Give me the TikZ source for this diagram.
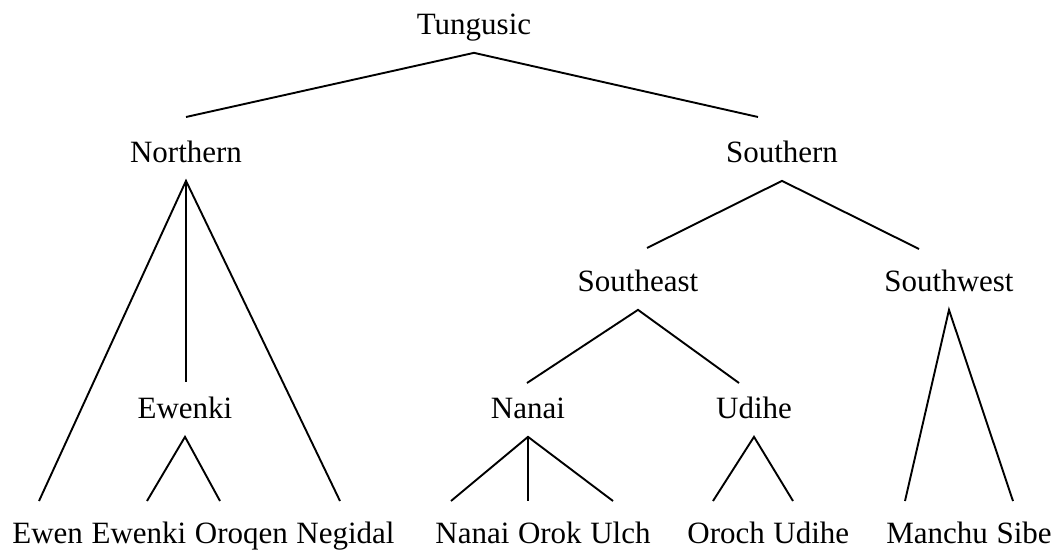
\documentclass[tikz,border=0pt]{standalone}
\usepackage{fontspec}
\setmainfont{Liberation Serif}
\usepackage{tikz}
\usetikzlibrary{positioning}
\tikzset{
  every picture/.style={x=0.5pt, y=-0.5pt},
  lang/.style={font=\fontsize{15.5}{18}\selectfont, inner xsep=0pt, inner ysep=5.35pt,
               text height=10.85pt, text depth=3.4pt},
  leaf/.style={lang},
  branch/.style={draw=black, line width=0.95pt},
}

\begin{document}
\begin{tikzpicture}
  \useasboundingbox (0,0) rectangle (1057,552);
  % upper levels
  \node[lang] (T) at (474,27.5) {Tungusic};
  \node[lang] (N) at (186,155.5) {Northern};
  \node[lang] (S) at (782,155.5) {Southern};
  \node[lang] (SE) at (638,284.5) {Southeast};
  \node[lang] (SW) at (949,284.5) {Southwest};
  \node[lang] (Ew) at (185,411.5) {Ewenki};
  \node[lang] (Na) at (528,411.5) {Nanai};
  \node[lang] (Ud) at (754,411.5) {Udihe};
  % leaves
  \node[leaf, anchor=west] (ewen) at (12,536.5) {Ewen};
  \node[leaf, right=3.9pt of ewen] (ewenki) {Ewenki};
  \node[leaf, right=3.9pt of ewenki] (oroqen) {Oroqen};
  \node[leaf, right=3.9pt of oroqen] (negidal) {Negidal};
  \node[leaf, anchor=west] (nanai) at (435,536.5) {Nanai};
  \node[leaf, right=3.9pt of nanai] (orok) {Orok};
  \node[leaf, right=3.9pt of orok] (ulch) {Ulch};
  \node[leaf, anchor=west] (oroch) at (687,536.5) {Oroch};
  \node[leaf, right=3.9pt of oroch] (udihe) {Udihe};
  \node[leaf, anchor=west] (manchu) at (886,536.5) {Manchu};
  \node[leaf, right=3.9pt of manchu] (sibe) {Sibe};
  % free ends of the branches
  \coordinate (tN) at (186,117); \coordinate (tS) at (758,117);
  \coordinate (nL) at (39,501); \coordinate (nM) at (186,382); \coordinate (nR) at (340,501);
  \coordinate (sL) at (647,248); \coordinate (sR) at (919,249);
  \coordinate (seL) at (527,383); \coordinate (seR) at (739,383);
  \coordinate (swL) at (905,501); \coordinate (swR) at (1013,501);
  \coordinate (ewL) at (147,501); \coordinate (ewR) at (220,501);
  \coordinate (naL) at (451,501); \coordinate (naM) at (528,501); \coordinate (naR) at (613,501);
  \coordinate (udL) at (713,501); \coordinate (udR) at (793,501);
  % branches
  \draw[branch] (tN) -- (T.south) -- (tS);
  \draw[branch] (nL) -- (N.south) -- (nR); \draw[branch] (N.south) -- (nM);
  \draw[branch] (sL) -- (S.south) -- (sR);
  \draw[branch] (seL) -- (SE.south) -- (seR);
  \draw[branch] (swL) -- (SW.south) -- (swR);
  \draw[branch] (ewL) -- (Ew.south) -- (ewR);
  \draw[branch] (naL) -- (Na.south) -- (naR); \draw[branch] (Na.south) -- (naM);
  \draw[branch] (udL) -- (Ud.south) -- (udR);
\end{tikzpicture}
\end{document}
